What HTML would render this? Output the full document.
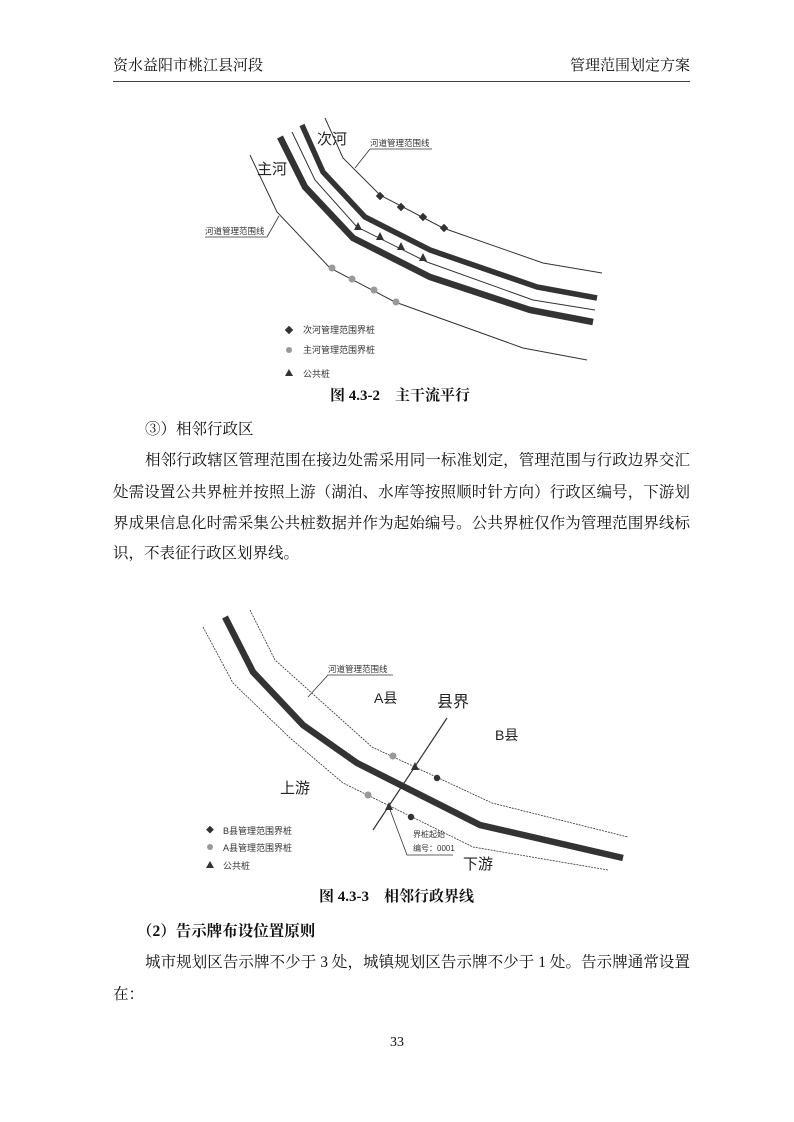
<!DOCTYPE html>
<html><head><meta charset="utf-8">
<style>
body{margin:0;background:#fff;}
#p{position:relative;width:794px;height:1122px;overflow:hidden;font-family:"Liberation Serif","Noto Serif CJK SC",serif;color:#111;}
.t{position:absolute;white-space:nowrap;font-size:15.5px;line-height:20px;}
.j{position:absolute;left:113px;width:577px;font-size:15.5px;line-height:20px;text-align:justify;text-align-last:justify;white-space:nowrap;}
.b{font-weight:bold;}
svg text{font-family:"Liberation Sans","Noto Sans CJK SC",sans-serif;}
</style></head><body><div id="p">
<div class="t" style="left:113px;top:56px;font-size:15px">资水益阳市桃江县河段</div>
<div class="t" style="left:570px;top:56px;font-size:15px;width:120px;text-align:right">管理范围划定方案</div>
<div style="position:absolute;left:113px;top:81px;width:577px;height:1px;background:#444"></div>

<svg style="position:absolute;left:0;top:0" width="794" height="1122">
<g fill="none" stroke="#333">
<polyline stroke-width="6.5" points="280,137 305,187 353,238 430,277 530,310 593,322"/>
<polyline stroke-width="5.5" points="302,125 323,172 365,217 430,250 537,287 597,298"/>
<polyline stroke-width="1" points="292,132 315,180 357,227 427,262 533,300 595,310"/>
<polyline stroke-width="1" points="325,118 343,158 380,195 443,228 543,263 602,273"/>
<polyline stroke-width="1" points="250,155 277,212 330,268 395,302 523,348 587,360"/>
<polyline stroke-width="0.8" points="370,149 432,149"/><polyline stroke-width="0.8" points="370,149 355,168"/>
<polyline stroke-width="0.8" points="205,237 267,237 279,216"/>
</g>
<g fill="#333">
<rect x="-3" y="-3" width="6" height="6" transform="translate(380,196) rotate(45)"/>
<rect x="-3" y="-3" width="6" height="6" transform="translate(401,207) rotate(45)"/>
<rect x="-3" y="-3" width="6" height="6" transform="translate(423,217) rotate(45)"/>
<rect x="-3" y="-3" width="6" height="6" transform="translate(444,228) rotate(45)"/>
<polygon points="358,222 362,230 354,230"/><polygon points="380,232 384,240 376,240"/>
<polygon points="401,242 405,250 397,250"/><polygon points="423,253 427,261 419,261"/>
<rect x="-3" y="-3" width="6" height="6" transform="translate(289,330) rotate(45)"/>
<polygon points="289,369 293,376 285,376"/>
</g>
<g fill="#999"><circle cx="332" cy="268" r="3.5"/><circle cx="352" cy="279" r="3.5"/><circle cx="374" cy="290" r="3.5"/><circle cx="396" cy="302" r="3.5"/><circle cx="289" cy="350" r="3"/></g>
<text x="317" y="144" font-size="15" fill="#222">次河</text>
<text x="257" y="174" font-size="15" fill="#222">主河</text>
<text x="370" y="146" font-size="8.5" fill="#333">河道管理范围线</text>
<text x="205" y="234" font-size="8.5" fill="#333">河道管理范围线</text>
<text x="303" y="333" font-size="9" fill="#333">次河管理范围界桩</text>
<text x="303" y="353" font-size="9" fill="#333">主河管理范围界桩</text>
<text x="303" y="377" font-size="9" fill="#333">公共桩</text>

<g fill="none" stroke="#333">
<polyline stroke-width="6.5" points="225,617 253,672 303,725 357,763 480,825 623,858"/>
<polyline stroke-width="0.8" stroke-dasharray="2,1" points="250,610 275,660 372,747 492,803 628,837"/>
<polyline stroke-width="0.8" stroke-dasharray="2,1" points="203,627 233,683 290,738 343,783 473,847 608,870"/>
<polyline stroke-width="1.2" points="447,718 373,830"/>
<polyline stroke-width="0.8" points="393,675 328,675 308,697"/>
<polyline stroke-width="0.8" points="389,807 407,855 453,855"/>
</g>
<g fill="#999"><circle cx="393" cy="756" r="3.5"/><circle cx="368" cy="795" r="3.5"/><circle cx="210" cy="847" r="3"/></g>
<g fill="#333">
<polygon points="415,762 419,770 411,770"/><polygon points="389,802 393,810 385,810"/>
<circle cx="437" cy="778" r="3.2"/><circle cx="411" cy="817" r="3.2"/>
<rect x="-3" y="-3" width="5.5" height="5.5" transform="translate(210,830) rotate(45)"/>
<polygon points="210,861 214,868 206,868"/>
</g>
<text x="374" y="703" font-size="14" fill="#222">A县</text>
<text x="437" y="707" font-size="16" fill="#222">县界</text>
<text x="495" y="740" font-size="14" fill="#222">B县</text>
<text x="280" y="793" font-size="15" fill="#222">上游</text>
<text x="463" y="869" font-size="15" fill="#222">下游</text>
<text x="328" y="672" font-size="8.5" fill="#333">河道管理范围线</text>
<text x="413" y="837" font-size="8" fill="#333">界桩起始</text>
<text x="413" y="851" font-size="8" fill="#333">编号：0001</text>
<text x="223" y="834" font-size="9" fill="#333">B县管理范围界桩</text>
<text x="223" y="851" font-size="9" fill="#333">A县管理范围界桩</text>
<text x="223" y="869" font-size="9" fill="#333">公共桩</text>
</svg>

<div class="t b" style="left:330px;top:386px;font-size:15px">图 4.3-2&nbsp;&nbsp;&nbsp;&nbsp;主干流平行</div>
<div class="t" style="left:145px;top:420px">③）相邻行政区</div>
<div class="j" style="left:145px;width:545px;top:451px">相邻行政辖区管理范围在接边处需采用同一标准划定，管理范围与行政边界交汇</div>
<div class="j" style="top:483px">处需设置公共界桩并按照上游（湖泊、水库等按照顺时针方向）行政区编号，下游划</div>
<div class="j" style="top:514px">界成果信息化时需采集公共桩数据并作为起始编号。公共界桩仅作为管理范围界线标</div>
<div class="t" style="left:113px;top:544px">识，不表征行政区划界线。</div>
<div class="t b" style="left:319px;top:887px;font-size:15px">图 4.3-3&nbsp;&nbsp;&nbsp;&nbsp;相邻行政界线</div>
<div class="t b" style="left:137px;top:922px">（2）告示牌布设位置原则</div>
<div class="j" style="left:145px;width:545px;top:953px">城市规划区告示牌不少于 3 处，城镇规划区告示牌不少于 1 处。告示牌通常设置</div>
<div class="t" style="left:113px;top:985px">在：</div>
<div class="t" style="left:390px;top:1033px;font-size:14px">33</div>
</div></body></html>
